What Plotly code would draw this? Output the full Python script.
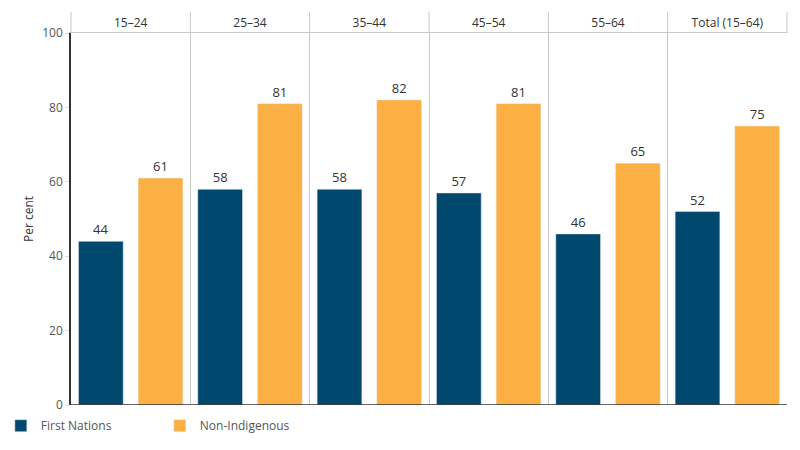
import plotly.graph_objects as go

# age groups shown as panel headers
age_groups = ["15–24", "25–34", "35–44", "45–54", "55–64", "Total (15–64)"]

# per cent employed
first_nations = [44, 58, 58, 57, 46, 52]
non_indigenous = [61, 81, 82, 81, 65, 75]

y_ticks = [0, 20, 40, 60, 80, 100]

BLUE = "#00486D"
ORANGE = "#FCAF42"
GRID = "#c8c8c8"
FONT = "Open Sans"

fig = go.Figure()

fig.add_trace(go.Bar(
    name="First Nations",
    x=age_groups,
    y=first_nations,
    marker_color=BLUE,
    texttemplate="%{y}",
    textposition="outside",
    textfont=dict(color="#333333", size=13),
    cliponaxis=False,
))
fig.add_trace(go.Bar(
    name="Non-Indigenous",
    x=age_groups,
    y=non_indigenous,
    marker_color=ORANGE,
    texttemplate="%{y}",
    textposition="outside",
    textfont=dict(color="#333333", size=13),
    cliponaxis=False,
))

# header band: vertical separators above the plot area
n = len(age_groups)
header_h = 21 / 372
shapes = []
for i in range(n + 1):
    shapes.append(dict(
        type="line", xref="x domain", yref="paper",
        x0=i / n, x1=i / n, y0=1, y1=1 + header_h,
        line=dict(color=GRID, width=1),
    ))
# dark baseline along the bottom
shapes.append(dict(
    type="line", xref="paper", yref="y",
    x0=0, x1=1, y0=0, y1=0,
    line=dict(color="#333333", width=1.5),
))

# page body adds an 8px offset, margins account for it
fig.update_layout(
    width=800,
    height=450,
    autosize=False,
    margin=dict(l=63, r=21, t=25, b=53, autoexpand=False),
    paper_bgcolor="white",
    plot_bgcolor="white",
    font=dict(family=FONT, size=12, color="#555555"),
    barmode="group",
    bargap=0,
    bargroupgap=0.25,
    showlegend=True,
    legend=dict(
        orientation="h",
        xref="paper", x=-0.098, xanchor="left",
        yref="container", y=0.104, yanchor="top",
        entrywidth=114, entrywidthmode="pixels",
        font=dict(size=12, color="#555555"),
        traceorder="normal",
    ),
    xaxis=dict(
        type="category",
        side="top",
        automargin=False,
        showline=True, linecolor=GRID, linewidth=1,
        showgrid=True, gridcolor=GRID, gridwidth=1,
        tickson="boundaries",
        ticks="",
        tickfont=dict(size=12, color="#333333"),
        fixedrange=True,
    ),
    yaxis=dict(
        range=[0, 100],
        automargin=False,
        tickvals=y_ticks,
        ticks="outside", ticklen=4, tickcolor="#dddddd",
        showline=True, linecolor="#333333", linewidth=1.5,
        showgrid=False,
        zeroline=False,
        tickfont=dict(size=12, color="#555555"),
        title=dict(text="Per cent", font=dict(size=12, color="#333333"), standoff=6),
        fixedrange=True,
    ),
    shapes=shapes,
)

fig.write_html("out.html")
